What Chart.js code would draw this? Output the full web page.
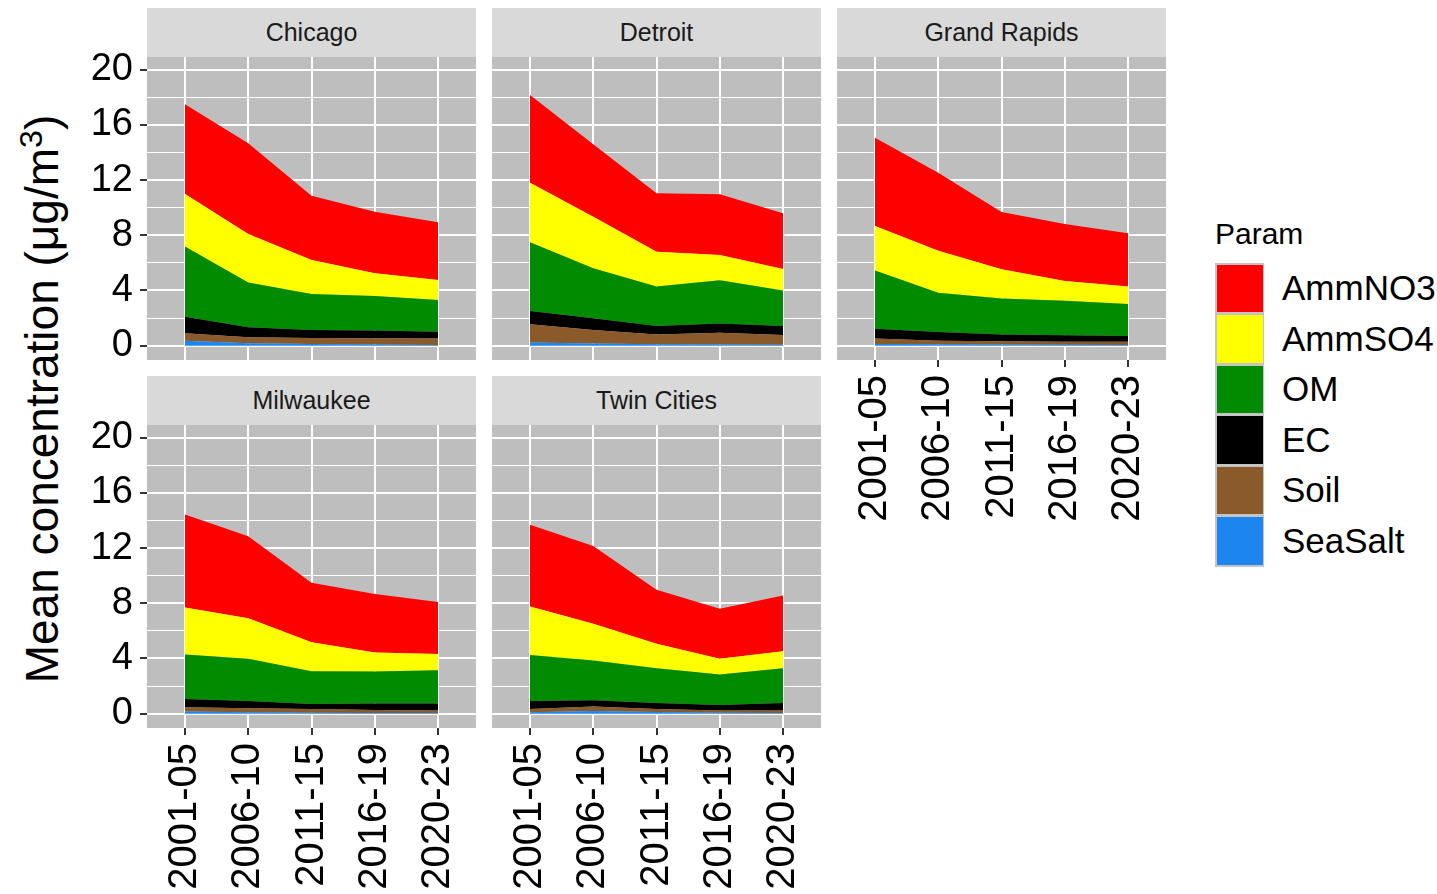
<!DOCTYPE html>
<html>
<head>
<meta charset="utf-8">
<script src="https://cdn.jsdelivr.net/npm/chart.js@4.4.1/dist/chart.umd.min.js"></script>
<style>
  body { margin: 0; background: #ffffff; width: 1437px; height: 894px; overflow: hidden; position: relative;
         font-family: "Liberation Sans", Arial, Helvetica, sans-serif; }
  canvas { position: absolute; }
  .strip { position: absolute; background: #d9d9d9; color: #1a1a1a; font-size: 25px;
           display: flex; align-items: center; justify-content: center; }
  #ytitle { position: absolute; left: 42px; top: 399px; white-space: nowrap; font-size: 46px; color: #000;
            transform: translate(-50%, -50%) rotate(-90deg); line-height: 1; }
  #ytitle sup { font-size: 0.7em; vertical-align: 0.5em; line-height: 0; }
  #legend { position: absolute; left: 1215px; top: 216px; color: #000; }
  #legend .title { font-size: 30px; height: 47px; line-height: 36px; }
  #legend .row { position: relative; height: 50.6px; }
  #legend .key { position: absolute; left: 0; top: 0; width: 49px; height: 50.6px; background: #c4c4c4; }
  #legend .key span { position: absolute; left: 1.5px; top: 1.5px; right: 1.5px; bottom: 1.5px; }
  #legend .lab { position: absolute; left: 67px; top: 0; height: 50.6px; line-height: 50.6px; font-size: 35px; white-space: nowrap; }
</style>
</head>
<body>
<div id="ytitle">Mean concentration (μg/m<sup>3</sup>)</div>
<div id="legend"></div>
<script>
// ---- data ----------------------------------------------------------------
const periods = ['2001-05', '2006-10', '2011-15', '2016-19', '2020-23'];
const cities = ['Chicago', 'Detroit', 'Grand Rapids', 'Milwaukee', 'Twin Cities'];
const params = ['AmmNO3', 'AmmSO4', 'OM', 'EC', 'Soil', 'SeaSalt'];
const paramColors = ['#ff0000', '#ffff00', '#008b00', '#000000', '#8b5a2b', '#1c86ee'];
const yMajorTicks = [0, 4, 8, 12, 16, 20];
const yMinorTicks = [2, 6, 10, 14, 18];

// mean concentrations (ug/m3); one row per city, in the order of `cities`
const ammNO3 = [
  [6.50, 6.58, 4.66, 4.47, 4.18],
  [6.36, 5.25, 4.23, 4.40, 4.03],
  [6.40, 5.66, 4.15, 4.13, 3.86],
  [6.73, 5.94, 4.31, 4.24, 3.76],
  [5.93, 5.64, 3.92, 3.63, 4.04]
];
const ammSO4 = [
  [3.81, 3.52, 2.46, 1.64, 1.45],
  [4.32, 3.74, 2.53, 1.83, 1.57],
  [3.23, 3.04, 2.13, 1.43, 1.26],
  [3.41, 2.95, 2.10, 1.38, 1.18],
  [3.51, 2.66, 1.77, 1.14, 1.24]
];
const om = [
  [5.08, 3.24, 2.61, 2.51, 2.30],
  [4.98, 3.63, 2.85, 3.14, 2.56],
  [4.21, 2.85, 2.61, 2.51, 2.32],
  [3.22, 3.05, 2.38, 2.32, 2.42],
  [3.34, 2.88, 2.52, 2.20, 2.52]
];
const ec = [
  [1.20, 0.72, 0.58, 0.56, 0.50],
  [0.96, 0.84, 0.63, 0.66, 0.65],
  [0.72, 0.63, 0.48, 0.46, 0.41],
  [0.61, 0.53, 0.36, 0.46, 0.51],
  [0.58, 0.46, 0.43, 0.41, 0.55]
];
const soil = [
  [0.54, 0.44, 0.44, 0.45, 0.46],
  [1.33, 0.99, 0.70, 0.86, 0.72],
  [0.39, 0.26, 0.24, 0.23, 0.24],
  [0.31, 0.29, 0.27, 0.22, 0.18],
  [0.24, 0.32, 0.22, 0.16, 0.17]
];
const seaSalt = [
  [0.36, 0.17, 0.12, 0.08, 0.05],
  [0.22, 0.15, 0.10, 0.08, 0.06],
  [0.12, 0.10, 0.08, 0.06, 0.05],
  [0.15, 0.10, 0.07, 0.05, 0.04],
  [0.10, 0.19, 0.12, 0.06, 0.05]
];
const seriesByParam = { AmmNO3: ammNO3, AmmSO4: ammSO4, OM: om, EC: ec, Soil: soil, SeaSalt: seaSalt };

// ---- layout --------------------------------------------------------------
const FONT = '"Liberation Sans", Arial, Helvetica, sans-serif';
const PLOT_W = 329, PLOT_H = 303, STRIP_H = 49;
const Y_AXIS_W = 100, X_AXIS_H = 170, PAD_TOP = 20;
const panels = [
  { x: 147, y: 57,  yLabels: true,  xLabels: false },
  { x: 492, y: 57,  yLabels: false, xLabels: false },
  { x: 837, y: 57,  yLabels: false, xLabels: true  },
  { x: 147, y: 425, yLabels: true,  xLabels: true  },
  { x: 492, y: 425, yLabels: false, xLabels: true  }
];

// grey panel background behind the grid
const panelBackground = {
  id: 'panelBackground',
  beforeDraw(chart) {
    const { ctx, chartArea: a } = chart;
    ctx.save();
    ctx.fillStyle = '#bebebe';
    ctx.fillRect(a.left, a.top, a.right - a.left, a.bottom - a.top);
    ctx.restore();
  }
};

const isMajor = v => yMajorTicks.includes(v);
const yGridValues = yMajorTicks.concat(yMinorTicks).sort((a, b) => a - b);

cities.forEach((city, ci) => {
  const p = panels[ci];

  const strip = document.createElement('div');
  strip.className = 'strip';
  strip.textContent = city;
  Object.assign(strip.style, { left: p.x + 'px', top: (p.y - STRIP_H) + 'px', width: PLOT_W + 'px', height: STRIP_H + 'px' });
  document.body.appendChild(strip);

  const leftW = p.yLabels ? Y_AXIS_W : 0;
  const bottomH = p.xLabels ? X_AXIS_H : 0;
  const canvas = document.createElement('canvas');
  canvas.width = leftW + PLOT_W;
  canvas.height = PAD_TOP + PLOT_H + bottomH;
  canvas.style.left = (p.x - leftW) + 'px';
  canvas.style.top = (p.y - PAD_TOP) + 'px';
  document.body.appendChild(canvas);

  // stack from the bottom: SeaSalt first, AmmNO3 on top
  const order = params.slice().reverse();
  const datasets = order.map((name, k) => ({
    label: name,
    data: seriesByParam[name][ci].map((v, i) => ({ x: i, y: v })),
    backgroundColor: paramColors[params.indexOf(name)],
    borderColor: 'rgba(0,0,0,0)',
    borderWidth: 1,
    pointRadius: 0,
    tension: 0,
    fill: k === 0 ? 'origin' : '-1'
  }));

  new Chart(canvas, {
    type: 'line',
    data: { datasets },
    plugins: [panelBackground],
    options: {
      responsive: false,
      animation: false,
      devicePixelRatio: 1,
      events: [],
      layout: { padding: { top: PAD_TOP, left: 0, right: 0, bottom: 0 } },
      plugins: { legend: { display: false }, tooltip: { enabled: false } },
      scales: {
        x: {
          type: 'linear',
          min: -0.6,
          max: 4.6,
          afterBuildTicks(s) { s.ticks = periods.map((_, i) => ({ value: i })); },
          afterFit(s) { s.height = bottomH; s.paddingLeft = 0; s.paddingRight = 0; },
          border: { display: false },
          grid: { color: '#ffffff', lineWidth: 2, drawTicks: p.xLabels, tickLength: 7, tickColor: '#333333', tickWidth: 2 },
          ticks: {
            display: p.xLabels, autoSkip: false, minRotation: 90, maxRotation: 90, padding: 8,
            color: '#000000', font: { family: FONT, size: 40 },
            callback: v => periods[v]
          }
        },
        y: {
          type: 'linear',
          stacked: true,
          min: -1.04,
          max: 20.92,
          afterBuildTicks(s) { s.ticks = yGridValues.map(v => ({ value: v })); },
          afterFit(s) { s.width = leftW; s.paddingTop = 0; s.paddingBottom = 0; },
          border: { display: false },
          grid: {
            color: '#ffffff',
            lineWidth: c => (c.tick && isMajor(c.tick.value)) ? 2 : 1,
            drawTicks: p.yLabels,
            tickLength: 7,
            tickWidth: 2,
            tickColor: c => (c.tick && isMajor(c.tick.value)) ? '#333333' : 'rgba(0,0,0,0)'
          },
          ticks: {
            display: p.yLabels, autoSkip: false, padding: 7,
            color: '#000000', font: { family: FONT, size: 38 },
            callback: v => isMajor(v) ? String(v) : ''
          }
        }
      }
    }
  });
});

// legend: colour keys listed top to bottom as AmmNO3 ... SeaSalt
const legend = document.getElementById('legend');
const lt = document.createElement('div');
lt.className = 'title';
lt.textContent = 'Param';
legend.appendChild(lt);
params.forEach((name, i) => {
  const row = document.createElement('div');
  row.className = 'row';
  const key = document.createElement('div');
  key.className = 'key';
  const sw = document.createElement('span');
  sw.style.background = paramColors[i];
  key.appendChild(sw);
  const lab = document.createElement('div');
  lab.className = 'lab';
  lab.textContent = name;
  row.appendChild(key);
  row.appendChild(lab);
  legend.appendChild(row);
});
</script>
</body>
</html>
